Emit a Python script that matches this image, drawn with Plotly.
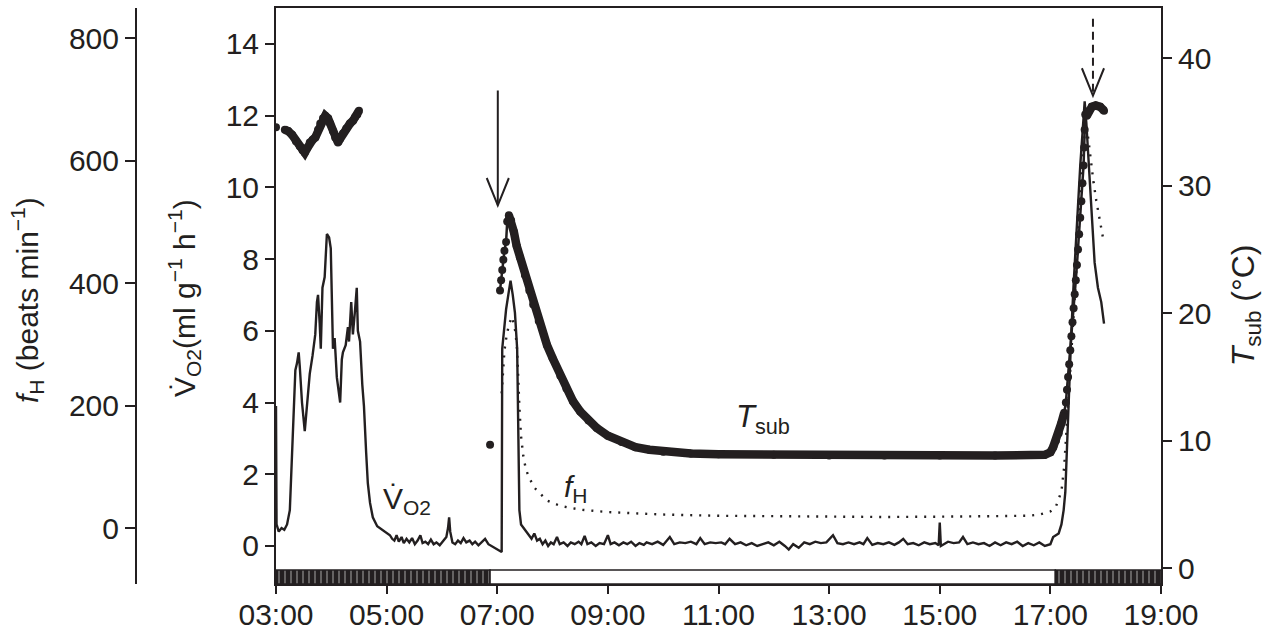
import numpy as np
import plotly.graph_objects as go

INK = "#231f20"
FONT = "Liberation Sans"

# ---------------- data (time in decimal hours) ----------------
vo2_t = [3.00, 3.01, 3.05, 3.10, 3.15, 3.20, 3.25, 3.30, 3.35, 3.38, 3.41, 3.43, 3.47, 3.52, 3.56,
         3.61, 3.66, 3.71, 3.74, 3.76, 3.79, 3.81, 3.84, 3.88, 3.92, 3.96, 3.99, 4.01, 4.03, 4.06,
         4.10, 4.16, 4.19, 4.21, 4.26, 4.30, 4.32, 4.36, 4.39, 4.43, 4.46, 4.48, 4.52, 4.56, 4.59,
         4.63, 4.66, 4.70, 4.75, 4.83, 4.92, 5.00, 5.06, 5.10,
         5.14, 5.18, 5.22, 5.27, 5.31, 5.36, 5.41, 5.46, 5.51, 5.56, 5.61, 5.65, 5.70, 5.75, 5.80,
         5.85, 5.90, 5.96, 6.02, 6.08, 6.11, 6.13, 6.15, 6.19, 6.24, 6.29, 6.34, 6.39, 6.44, 6.50,
         6.55, 6.60, 6.66, 6.72, 6.78, 6.84, 6.90, 6.96, 7.02, 7.08,
         7.09, 7.12, 7.16, 7.20, 7.24, 7.28, 7.32, 7.36, 7.38, 7.40, 7.43, 7.48, 7.53, 7.58, 7.62,
         7.67, 7.72, 7.77, 7.82, 7.87, 7.92, 7.97, 8.02, 8.08, 8.13, 8.20, 8.27, 8.33, 8.40, 8.47,
         8.52, 8.58, 8.63, 8.70, 8.78, 8.85, 8.93, 9.00, 9.05, 9.12, 9.20, 9.28, 9.35, 9.42, 9.50,
         9.57, 9.65, 9.70, 9.80, 9.90, 10.00, 10.12, 10.20, 10.30, 10.40, 10.50, 10.60, 10.67, 10.75,
         10.85, 10.95, 11.05, 11.12, 11.20, 11.30, 11.40, 11.50, 11.60, 11.70, 11.80, 11.90, 12.00,
         12.10, 12.20, 12.27, 12.35, 12.45, 12.55, 12.65, 12.75, 12.85, 12.95, 13.07, 13.15, 13.25,
         13.35, 13.45, 13.55, 13.62, 13.69, 13.78, 13.88, 13.98, 14.08, 14.18, 14.26, 14.34, 14.42,
         14.52, 14.62, 14.72, 14.82, 14.92, 14.98, 15.00, 15.02, 15.08, 15.15, 15.25, 15.35, 15.42,
         15.50, 15.60, 15.70, 15.80, 15.90, 16.00, 16.10, 16.20, 16.30, 16.40, 16.50, 16.60, 16.70,
         16.80, 16.90, 17.00, 17.05, 17.10, 17.15, 17.20, 17.24, 17.27, 17.30, 17.34, 17.38, 17.42,
         17.46, 17.50, 17.54, 17.58, 17.62, 17.65, 17.70, 17.75, 17.80, 17.86, 17.92, 17.97]
vo2_v = [3.9, 0.6, 0.4, 0.5, 0.45, 0.6, 1.0, 3.0, 4.9, 5.1, 5.4, 5.0, 4.0, 3.2, 4.0,
         4.8, 5.3, 5.9, 6.8, 7.0, 6.2, 5.5, 7.2, 7.5, 8.7, 8.6, 8.3, 6.5, 5.5, 5.8,
         4.7, 4.0, 5.2, 5.4, 5.6, 6.1, 5.7, 6.8, 5.9, 6.6, 7.2, 6.0, 5.7, 4.5, 3.9,
         2.6, 1.75, 1.2, 0.8, 0.55, 0.45, 0.35, 0.3, 0.2,
         0.15, 0.3, 0.12, 0.25, 0.08, 0.2, 0.1, 0.22, 0.05, 0.15, 0.3, 0.08, 0.12, 0.05, 0.18,
         0.05, 0.1, 0.02, 0.12, 0.25, 0.5, 0.8, 0.4, 0.1, 0.05, 0.15, 0.08, 0.22, 0.1, 0.15,
         0.05, 0.12, 0.02, 0.1, 0.2, 0.05, 0.0, -0.05, -0.1, -0.17,
         5.5, 6.0, 6.6, 7.0, 7.4, 7.0, 6.5, 5.5, 3.0, 1.0, 0.6, 0.5, 0.4, 0.3, 0.2,
         0.35, 0.15, 0.2, 0.05, 0.15, 0.0, 0.1, 0.05, 0.25, 0.05, 0.1, 0.0, 0.1, 0.05, 0.12,
         0.05, 0.28, 0.05, 0.1, 0.0, 0.08, 0.05, 0.3, 0.05, 0.1, 0.02, 0.1, 0.05, 0.12, 0.0,
         0.08, 0.03, 0.1, 0.05, 0.12, 0.03, 0.25, 0.05, 0.1, 0.08, 0.12, 0.05, 0.22, 0.05,
         0.1, 0.08, 0.1, 0.05, 0.2, 0.05, 0.1, 0.02, 0.08, 0.0, 0.05, 0.1, 0.02,
         0.12, 0.0, -0.1, 0.05, -0.05, 0.1, 0.05, 0.12, 0.08, 0.1, 0.3, 0.08, 0.05,
         0.1, 0.05, 0.1, 0.05, 0.22, 0.03, 0.08, 0.05, 0.1, 0.03, 0.1, 0.2, 0.05,
         0.08, 0.02, 0.1, 0.05, 0.08, 0.02, 0.65, 0.0, 0.05, 0.12, 0.08, 0.1, 0.25,
         0.05, 0.1, 0.05, 0.08, 0.0, 0.1, 0.02, 0.1, 0.05, 0.12, 0.0, 0.08, 0.02,
         0.1, 0.0, 0.05, 0.25, 0.3, 0.35, 0.6, 1.0, 1.5, 2.8, 4.5, 6.0, 7.3,
         8.5, 9.6, 10.6, 11.5, 12.4, 11.8, 10.5, 9.0, 7.9, 7.2, 6.8, 6.2]

fh_t = [7.08, 7.10, 7.13, 7.17, 7.22, 7.27, 7.33, 7.36, 7.38, 7.40, 7.43, 7.47, 7.52, 7.59,
        7.67, 7.77, 7.90, 8.14, 8.50, 9.00, 9.50, 10.0, 11.0, 12.0, 13.0, 14.0, 15.0, 16.0,
        16.6, 16.8, 17.0, 17.1, 17.2, 17.25, 17.3, 17.35, 17.4, 17.45, 17.5, 17.55, 17.6,
        17.63, 17.68, 17.73, 17.78, 17.83, 17.88, 17.93, 17.96]
fh_v = [220, 250, 290, 315, 335, 345, 320, 290, 240, 198, 150, 118, 95, 80,
        66, 57, 45, 36, 30, 26, 24, 22, 20, 19, 18, 18, 18.5, 19,
        20, 22, 27, 35, 60, 100, 170, 240, 310, 390, 470, 550, 630,
        660, 640, 600, 565, 535, 510, 485, 470]

tsub_t = [3.16, 3.22, 3.29, 3.36, 3.43, 3.48, 3.52, 3.57, 3.61, 3.66, 3.71, 3.76, 3.80, 3.85,
          3.89, 3.94, 3.98, 4.03, 4.07, 4.12, 4.16, 4.21, 4.27, 4.34, 4.39, 4.43, 4.47, 4.50,
          np.nan,
          7.05, 7.07, 7.09, 7.11, 7.13, 7.16, 7.18, 7.21, 7.25, 7.30, 7.35, 7.41, 7.50, 7.58,
          7.65, 7.75, 7.90, 8.00, 8.14, 8.25, 8.37, 8.50, 8.65, 8.80, 9.00, 9.25, 9.50, 9.75,
          10.0, 10.5, 11.0, 12.0, 13.0, 14.0, 15.0, 16.0, 16.9, 17.0, 17.05, 17.10, 17.15,
          17.20, 17.25, 17.28, 17.30, 17.32, 17.34, 17.36, 17.38, 17.40, 17.42, 17.44, 17.46,
          17.48, 17.50, 17.52, 17.54, 17.56, 17.58, 17.60, 17.61, 17.62, 17.63, 17.66, 17.70,
          17.75, 17.82, 17.90, 17.97]
tsub_v = [34.4, 34.3, 34.0, 33.5, 33.1, 32.8, 32.6, 33.0, 33.4, 33.6, 33.8, 34.4, 34.9, 35.3,
          35.5, 35.3, 34.9, 34.3, 33.8, 33.4, 33.7, 34.1, 34.5, 34.9, 35.1, 35.4, 35.6, 35.9,
          np.nan,
          21.8, 22.6, 23.4, 24.2, 24.9, 25.6, 27.2, 27.7, 27.3, 26.4, 25.3, 24.4, 23.0, 21.8,
          20.7, 19.4, 17.5, 16.5, 15.1, 14.1, 13.1, 12.3, 11.6, 11.0, 10.4, 9.9, 9.5, 9.3,
          9.15, 9.0, 8.95, 8.9, 8.85, 8.85, 8.85, 8.85, 8.9, 9.1, 9.5, 10.0, 10.6,
          11.4, 12.2, 13.0, 14.0, 15.0, 16.0, 17.1, 18.2, 19.3, 20.4, 21.5, 22.6,
          23.8, 25.0, 26.2, 27.5, 28.8, 30.2, 31.6, 33.0, 34.4, 35.6, 35.5, 35.9,
          36.2, 36.3, 36.2, 35.9]
# isolated Tsub readings
tsub_iso_t = [3.00, 6.87]
tsub_iso_v = [34.6, 9.7]

# photoperiod (dark / light) bar
photo_start = [3.00, 6.87, 17.09]
photo_end = [6.87, 17.09, 19.00]
photo_dark = [True, False, True]

x_tickvals = [3, 5, 7, 9, 11, 13, 15, 17, 19]
x_ticktext = ["03:00", "05:00", "07:00", "09:00", "11:00", "13:00", "15:00", "17:00", "19:00"]
vo2_ticks = [0, 2, 4, 6, 8, 10, 12, 14]
fh_ticks = [0, 200, 400, 600, 800]
tsub_ticks = [0, 10, 20, 30, 40]

# ---------------- figure ----------------
VO2_RANGE = [-1.06, 15.0]
TSUB_RANGE = [-1.23, 43.95]
FH_RANGE = [-91.5, 849.8]
BAR_BOTTOM, BAR_TOP = -1.06, -0.67

fig = go.Figure()

# photoperiod bar
mids = [(s + e) / 2 for s, e in zip(photo_start, photo_end)]
wids = [e - s for s, e in zip(photo_start, photo_end)]
fig.add_trace(go.Bar(
    x=mids, width=wids, y=[BAR_TOP - BAR_BOTTOM] * len(mids), base=[BAR_BOTTOM] * len(mids),
    marker=dict(color=[INK if d else "white" for d in photo_dark],
                line=dict(color=INK, width=1.5),
                pattern=dict(shape=["|" if d else "" for d in photo_dark],
                             fgcolor="#6a6a6a", bgcolor=INK, size=6, solidity=0.2,
                             fillmode="overlay")),
    yaxis="y", hoverinfo="skip"))

# VO2 solid line
fig.add_trace(go.Scatter(x=vo2_t, y=vo2_v, mode="lines", yaxis="y",
                         line=dict(color=INK, width=2.4)))

# fH dotted line
fig.add_trace(go.Scatter(x=fh_t, y=fh_v, mode="lines", yaxis="y3",
                         line=dict(color=INK, width=2.4, dash="2px,7px")))

# Tsub: dense band where readings overlap, beads where they separate
tt = np.array(tsub_t, dtype=float)
tv = np.array(tsub_v, dtype=float)
bead = ((tt > 7.0) & (tt < 7.2)) | ((tt > 17.26) & (tt < 17.635))
band_v = np.where(bead, np.nan, tv)
fig.add_trace(go.Scatter(x=tt, y=tv, mode="lines+markers", yaxis="y2",
                         line=dict(color=INK, width=2.5),
                         marker=dict(color=INK, size=8)))
fig.add_trace(go.Scatter(x=tt, y=band_v, mode="lines", yaxis="y2",
                         line=dict(color=INK, width=8.5)))
fig.add_trace(go.Scatter(x=tsub_iso_t, y=tsub_iso_v, mode="markers", yaxis="y2",
                         marker=dict(color=INK, size=8)))

# arrows (solid at lights-on, dashed later)
ARROW1_X, ARROW1_Y0, ARROW1_Y1 = 7.01, 12.7, 9.5
ARROW2_X, ARROW2_Y0, ARROW2_Y1 = 17.77, 14.7, 12.56
HEAD_DX, HEAD_DY = 0.2, 0.76
shapes = [
    dict(type="line", xref="x", yref="y", x0=ARROW1_X, x1=ARROW1_X, y0=ARROW1_Y0, y1=ARROW1_Y1,
         line=dict(color=INK, width=2)),
    dict(type="path", xref="x", yref="y",
         path=f"M {ARROW1_X-HEAD_DX},{ARROW1_Y1+HEAD_DY} L {ARROW1_X},{ARROW1_Y1} L {ARROW1_X+HEAD_DX},{ARROW1_Y1+HEAD_DY}",
         line=dict(color=INK, width=2)),
    dict(type="line", xref="x", yref="y", x0=ARROW2_X, x1=ARROW2_X, y0=ARROW2_Y0, y1=ARROW2_Y1,
         line=dict(color=INK, width=2, dash="8px,5px")),
    dict(type="path", xref="x", yref="y",
         path=f"M {ARROW2_X-HEAD_DX},{ARROW2_Y1+HEAD_DY} L {ARROW2_X},{ARROW2_Y1} L {ARROW2_X+HEAD_DX},{ARROW2_Y1+HEAD_DY}",
         line=dict(color=INK, width=2)),
]

tick_font = dict(family=FONT, size=30, color=INK)
ann_common = dict(showarrow=False, xanchor="center", yanchor="middle")
annots = [
    dict(x=5.37, y=1.28, xref="x", yref="y", text="V\u0307<sub>O2</sub>",
         font=dict(family=FONT, size=30, color=INK), **ann_common),
    dict(x=8.42, y=1.59, xref="x", yref="y", text="<i>f</i><sub>H</sub>",
         font=dict(family=FONT, size=30, color=INK), **ann_common),
    dict(x=11.81, y=3.54, xref="x", yref="y", text="<i>T</i><sub>sub</sub>",
         font=dict(family=FONT, size=31, color=INK), **ann_common),
    dict(x=-0.1063, y=0.493, xref="paper", yref="paper", textangle=-90,
         text="<i>f</i><sub>H</sub> (beats min<sup>\u22121</sup>)",
         font=dict(family=FONT, size=30, color=INK), **ann_common),
    dict(x=0.0468, y=0.4965, xref="paper", yref="paper", textangle=-90,
         text="V\u0307<sub>O2</sub>(ml g<sup>\u22121</sup> h<sup>\u22121</sup>)",
         font=dict(family=FONT, size=30, color=INK), **ann_common),
    dict(x=1.082, y=0.484, xref="paper", yref="paper", textangle=-90,
         text="<i>T</i><sub>sub</sub> (\u00b0C)",
         font=dict(family=FONT, size=32, color=INK), **ann_common),
]

axis_common = dict(showgrid=False, zeroline=False, showline=True, linecolor=INK, linewidth=2,
                   ticks="outside", tickcolor=INK, tickwidth=2, tickfont=tick_font,
                   automargin=False)

fig.update_layout(
    width=1276, height=629,
    margin=dict(l=136, r=115, t=8, b=45, autoexpand=False),
    paper_bgcolor="white", plot_bgcolor="white",
    showlegend=False, barmode="overlay",
    font=dict(family=FONT, color=INK),
    xaxis=dict(domain=[140 / 1025, 1], range=[3, 19], tickvals=x_tickvals, ticktext=x_ticktext,
               ticklen=8, mirror=True, ticklabelstandoff=-5, **axis_common),
    yaxis=dict(range=VO2_RANGE, tickvals=vo2_ticks, ticklen=9, **axis_common),
    yaxis2=dict(range=TSUB_RANGE, tickvals=tsub_ticks, ticklen=9, overlaying="y", side="right",
                anchor="x", **axis_common),
    yaxis3=dict(range=FH_RANGE, tickvals=fh_ticks, ticklen=10, overlaying="y", side="left",
                anchor="free", position=0, **axis_common),
    shapes=shapes, annotations=annots,
)

fig.write_html("out.html", config={"displayModeBar": False},
               post_script="document.body.style.margin='0';document.body.style.overflow='hidden';")
